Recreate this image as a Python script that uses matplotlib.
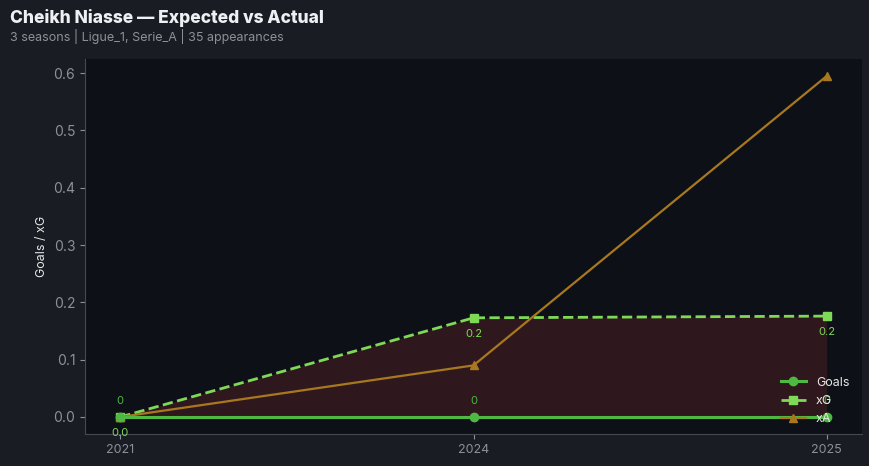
import matplotlib
matplotlib.use("Agg")
import matplotlib.pyplot as plt
import numpy as np

seasons = ["2021", "2024", "2025"]
goals = [0, 0, 0]
xg = [0.0, 0.173, 0.176]
xa = [0.0, 0.09, 0.595]

plt.rcParams['font.family'] = ['Inter', 'DejaVu Sans']

BG = "#191c23"
AX_BG = "#0d1017"
C_GOALS = "#4fb843"
C_XG = "#7ed957"
C_XA = "#a8781e"

fig = plt.figure(figsize=(8.69, 4.66), dpi=100, facecolor=BG)
ax = fig.add_axes([85/869, 1-434/466, (862-85)/869, (434-59)/466])
ax.set_facecolor(AX_BG)

x = np.arange(len(seasons))
ax.fill_between(x, goals, xg, color="#5a2326", alpha=0.45, linewidth=0)
ax.plot(x, goals, color=C_GOALS, lw=2.2, marker="o", ms=6, label="Goals", zorder=4)
ax.plot(x, xg, color=C_XG, lw=2, ls="--", marker="s", ms=6, label="xG", zorder=3)
ax.plot(x, xa, color=C_XA, lw=1.6, marker="^", ms=6, label="xA", zorder=3)

for i in range(len(x)):
    ax.annotate(f"{goals[i]}", (x[i], goals[i]), textcoords="offset points", xytext=(0, 8),
                ha="center", va="bottom", color=C_GOALS, fontsize=8)
    ax.annotate(f"{xg[i]:.1f}", (x[i], xg[i]), textcoords="offset points", xytext=(0, -8),
                ha="center", va="top", color=C_XG, fontsize=8)

ax.set_xticks(x)
ax.set_xticklabels(seasons)
ax.tick_params(colors="#8b919a", labelsize=9)
ax.tick_params(axis="y", labelsize=10)
for s in ["top", "right"]:
    ax.spines[s].set_visible(False)
for s in ["left", "bottom"]:
    ax.spines[s].set_color("#444a54")
ax.set_ylabel("Goals / xG", color="#e6e6e6", fontsize=9)

leg = ax.legend(loc="lower right", frameon=False, fontsize=9, labelcolor="#e6e6e6",
                borderaxespad=0.3, bbox_to_anchor=(0.995, 0.0))

fig.text(10/869, 1-18/466, "Cheikh Niasse — Expected vs Actual", color="#eef0f4",
         fontsize=12.5, fontweight="heavy", va="center", ha="left")
fig.text(10/869, 1-37/466, "3 seasons | Ligue_1, Serie_A | 35 appearances", color="#8b919a",
         fontsize=9, va="center", ha="left")

fig.savefig("out.png", dpi=100, facecolor=BG)
